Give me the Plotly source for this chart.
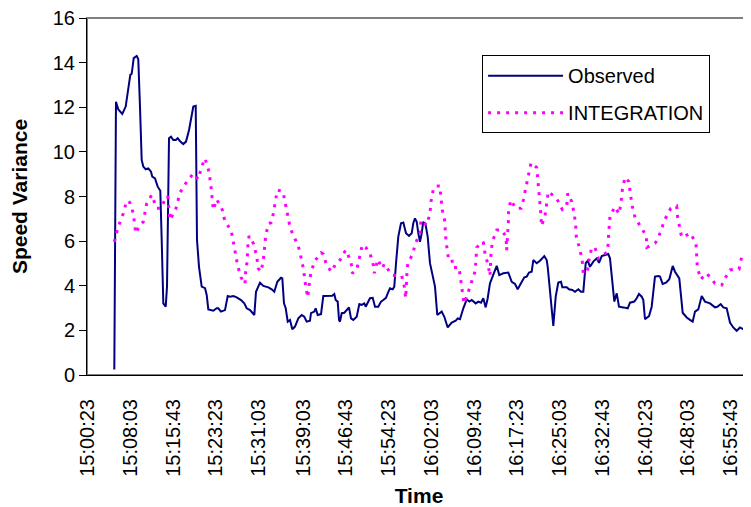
import plotly.graph_objects as go
import pandas as pd

# ---- data (time in minutes after 15:00:00, value) ----
observed = [
    (5.19, 0.25), (5.49, 12.25), (5.91, 11.9), (6.62, 11.7), (7.23, 12.03), (7.70, 12.77), (8.06, 13.45), (8.31, 13.5),
    (8.67, 14.2), (9.21, 14.3), (9.49, 14.15), (9.80, 12.0), (10.10, 9.64), (10.39, 9.34), (10.82, 9.22), (11.29, 9.26),
    (11.77, 9.11), (12.00, 8.89), (12.49, 8.81), (12.97, 8.44), (13.44, 8.26), (13.69, 6.05), (13.98, 3.21), (14.41, 3.06),
    (14.64, 3.96), (15.00, 10.61), (15.36, 10.68), (15.77, 10.53), (16.20, 10.53), (16.56, 10.61), (17.03, 10.46),
    (17.56, 10.35), (18.05, 10.46), (18.59, 10.98), (19.07, 11.58), (19.36, 12.03), (19.79, 12.06), (20.02, 6.05),
    (20.38, 4.85), (20.86, 3.96), (21.46, 3.89), (21.76, 3.59), (22.05, 2.94), (22.94, 2.88), (23.55, 2.99), (23.84, 2.99),
    (24.32, 2.84), (25.04, 2.91), (25.53, 3.54), (25.94, 3.51), (26.53, 3.54), (27.14, 3.48), (27.91, 3.36), (28.50, 3.21),
    (28.93, 2.99), (29.53, 2.91), (30.30, 2.69), (30.60, 3.73), (31.32, 4.14), (31.91, 3.99), (32.81, 3.93), (33.42, 3.84),
    (33.88, 3.73), (34.42, 4.18), (35.08, 4.36), (35.32, 4.33), (35.62, 3.21), (35.93, 2.99), (36.29, 2.39), (36.70, 2.47),
    (37.11, 2.05), (37.59, 2.17), (38.19, 2.54), (38.80, 2.69), (39.26, 2.61), (39.69, 2.39), (40.28, 2.43), (40.46, 2.77),
    (41.06, 2.84), (41.30, 2.99), (41.67, 2.69), (42.26, 2.73), (42.67, 3.54), (44.28, 3.55), (44.64, 3.63), (44.89, 3.36),
    (45.25, 3.29), (45.49, 2.47), (45.66, 2.39), (45.97, 2.77), (46.44, 2.79), (46.92, 2.91), (47.28, 3.03), (47.64, 2.54),
    (48.05, 2.47), (48.66, 2.61), (49.13, 3.18), (49.56, 3.14), (50.02, 3.21), (50.27, 3.06), (50.63, 3.21), (51.04, 3.44),
    (51.53, 3.46), (51.94, 3.06), (52.53, 3.06), (53.02, 3.29), (53.43, 3.36), (53.91, 3.46), (54.22, 3.66), (54.63, 3.89),
    (55.12, 3.84), (55.40, 3.96), (55.71, 5.01), (56.12, 6.20), (56.60, 6.80), (57.02, 6.83), (57.50, 6.35), (58.04, 6.23),
    (58.52, 6.35), (58.81, 6.80), (59.11, 7.02), (59.42, 6.87), (59.71, 6.35), (60.01, 5.97), (60.31, 6.35), (60.60, 6.87),
    (61.03, 6.72), (61.39, 6.20), (61.80, 5.01), (62.22, 4.56), (62.70, 3.96), (63.11, 2.69), (63.90, 2.84), (64.37, 2.61),
    (64.98, 2.13), (65.70, 2.35), (66.41, 2.43), (66.77, 2.54), (67.18, 2.50), (67.78, 2.99), (68.39, 3.39), (68.85, 3.29),
    (69.28, 3.36), (70.00, 3.21), (70.47, 3.29), (70.95, 3.24), (71.36, 3.44), (71.79, 3.03), (72.15, 3.44), (72.56, 4.11),
    (73.16, 4.48), (73.77, 4.89), (74.23, 4.48), (74.95, 4.56), (75.85, 4.59), (76.46, 4.18), (77.05, 4.08), (77.53, 3.84),
    (78.12, 4.11), (78.72, 4.38), (79.15, 4.41), (79.56, 4.59), (80.04, 4.63), (80.33, 5.15), (80.94, 5.01), (81.53, 5.12),
    (82.30, 5.33), (82.73, 5.15), (82.91, 4.85), (83.32, 3.66), (83.92, 2.20), (84.35, 3.51), (84.81, 4.14), (85.30, 4.18),
    (85.53, 3.93), (86.32, 3.93), (86.73, 3.84), (87.32, 3.81), (87.81, 3.73), (88.40, 3.84), (88.88, 3.73), (89.30, 3.73),
    (89.73, 5.01), (90.09, 5.12), (90.50, 4.85), (91.09, 5.08), (91.70, 5.23), (92.11, 5.03), (92.60, 5.33), (93.19, 5.38),
    (93.78, 5.42), (94.08, 5.23), (94.39, 4.56), (94.86, 3.29), (95.29, 3.66), (95.70, 3.06), (96.47, 3.03), (97.26, 2.99),
    (97.67, 3.24), (98.44, 3.29), (98.87, 3.44), (99.28, 3.63), (99.77, 3.51), (100.06, 3.36), (100.36, 2.50), (101.08, 2.64),
    (101.56, 3.06), (102.15, 4.41), (102.75, 4.44), (103.05, 4.41), (103.53, 4.08), (104.13, 4.14), (104.72, 4.29),
    (105.33, 4.89), (105.74, 4.63), (106.51, 4.33), (107.12, 2.79), (107.84, 2.58), (108.43, 2.47), (108.91, 2.39),
    (109.33, 2.84), (109.92, 2.94), (110.53, 3.54), (111.12, 3.29), (112.02, 3.21), (112.91, 3.03), (113.33, 3.06),
    (113.94, 3.18), (114.40, 3.03), (115.01, 2.99), (115.60, 2.35), (116.19, 2.13), (116.80, 1.98), (117.40, 2.13),
    (117.99, 2.05), (118.47, 2.32), (118.88, 2.39), (119.32, 2.69),
]

integration = [
    (5.19, 5.97), (5.80, 6.57), (6.80, 7.24), (7.41, 7.81), (8.00, 7.72), (8.60, 7.24), (9.03, 6.35), (9.80, 6.72),
    (10.39, 6.87), (11.00, 7.69), (11.90, 8.07), (12.79, 7.47), (13.56, 7.47), (14.28, 7.87), (14.77, 8.02), (15.18, 6.95),
    (16.20, 7.42), (16.97, 8.17), (18.17, 8.66), (19.36, 9.03), (20.25, 8.77), (20.86, 9.34), (21.46, 9.71), (22.17, 9.11),
    (22.53, 8.44), (22.94, 7.40), (23.55, 7.87), (24.56, 7.40), (25.04, 6.87), (26.12, 6.50), (26.53, 5.97), (26.96, 5.42),
    (27.32, 4.89), (27.91, 4.38), (28.63, 4.08), (28.75, 4.63), (29.04, 5.15), (29.10, 5.68), (29.35, 6.23), (30.12, 5.90),
    (30.73, 5.33), (31.01, 4.78), (31.50, 4.63), (31.91, 5.15), (32.22, 5.75), (32.34, 6.23), (32.81, 6.77), (33.29, 6.83),
    (33.70, 7.22), (34.01, 7.77), (34.42, 8.29), (35.44, 8.22), (35.93, 7.66), (36.39, 7.13), (36.75, 6.57), (37.36, 6.23),
    (38.19, 5.78), (38.67, 5.27), (39.15, 4.71), (39.39, 4.18), (39.69, 3.63), (39.87, 3.48), (40.11, 3.99), (40.41, 4.53),
    (41.06, 5.08), (42.26, 5.48), (42.67, 5.42), (43.28, 4.89), (44.18, 4.63), (44.77, 4.93), (45.66, 5.15), (46.69, 5.60),
    (47.64, 5.08), (47.87, 4.56), (48.66, 4.71), (49.25, 5.30), (49.66, 5.83), (50.27, 5.72), (51.04, 5.45), (51.64, 4.93),
    (51.82, 4.56), (52.43, 5.18), (53.25, 4.78), (53.61, 4.98), (54.94, 4.48), (56.12, 4.45), (56.73, 4.45), (57.20, 3.96),
    (57.45, 3.44), (57.63, 4.41), (57.81, 5.01), (58.63, 5.38), (59.24, 5.93), (60.01, 6.35), (60.19, 6.95), (61.21, 6.72),
    (61.80, 7.24), (61.98, 7.77), (62.40, 8.32), (62.83, 8.47), (63.60, 8.47), (63.78, 7.91), (64.01, 7.40), (64.49, 6.87),
    (64.55, 6.35), (64.80, 5.78), (65.09, 5.26), (65.70, 5.26), (65.93, 4.81), (67.00, 4.83), (67.36, 4.26), (67.67, 3.73),
    (67.90, 3.21), (68.49, 3.59), (69.16, 4.08), (69.87, 4.63), (70.05, 5.15), (70.18, 5.72), (71.36, 5.97), (71.67, 5.45),
    (72.26, 4.89), (72.56, 4.44), (72.74, 5.45), (72.98, 5.97), (73.77, 6.50), (74.66, 6.50), (75.43, 6.20), (75.56, 5.60),
    (75.85, 6.80), (75.90, 7.32), (76.28, 7.84), (77.17, 7.47), (78.12, 7.47), (78.54, 7.84), (78.97, 8.37), (79.43, 8.93),
    (79.92, 9.51), (80.94, 9.30), (81.12, 8.71), (81.23, 8.22), (81.53, 7.66), (81.71, 7.13), (81.80, 6.68), (82.43, 7.13),
    (82.73, 7.69), (83.02, 8.22), (84.53, 7.91), (85.53, 7.42), (86.32, 7.57), (86.50, 8.14), (87.22, 7.77), (87.68, 7.22),
    (87.93, 6.68), (88.05, 6.17), (88.70, 5.63), (89.12, 5.08), (89.30, 4.56), (90.01, 4.63), (90.32, 5.15), (90.80, 5.71),
    (91.39, 5.71), (91.99, 5.23), (92.60, 5.33), (93.67, 5.53), (93.78, 6.08), (93.96, 6.62), (94.08, 7.13), (94.98, 7.54),
    (95.70, 7.22), (96.06, 7.72), (96.29, 8.29), (96.77, 8.86), (97.49, 8.66), (97.72, 8.14), (98.08, 7.57), (98.57, 7.06),
    (99.64, 6.62), (100.59, 6.23), (100.70, 5.72), (102.15, 5.90), (102.65, 6.08), (103.35, 6.53), (103.95, 6.98),
    (104.97, 7.47), (106.04, 7.57), (106.22, 7.06), (106.64, 6.53), (106.94, 6.17), (108.56, 6.35), (109.51, 5.87),
    (109.63, 5.33), (109.74, 4.83), (110.35, 4.29), (111.43, 4.56), (112.91, 4.11), (114.12, 4.03), (114.89, 4.41),
    (115.60, 4.71), (116.32, 4.74), (117.22, 4.74), (117.70, 5.30), (118.47, 5.48), (118.71, 5.57), (119.32, 5.65),
]

tick_labels = ["15:00:23", "15:08:03", "15:15:43", "15:23:23", "15:31:03", "15:39:03", "15:46:43", "15:54:23",
               "16:02:03", "16:09:43", "16:17:23", "16:25:03", "16:32:43", "16:40:23", "16:48:03", "16:55:43"]

x_range_minutes = [0.293, 119.37]

# ---- figure ----
base = pd.Timestamp("2000-01-01 15:00:00")


def to_time(m):
    return base + pd.Timedelta(minutes=m)


FONT = "Arial, Liberation Sans, sans-serif"

fig = go.Figure()
fig.add_trace(go.Scatter(
    x=[to_time(m) for m, _ in observed], y=[v for _, v in observed],
    mode="lines", name="Observed", legendgroup="obs",
    line=dict(color="#000080", width=2),
))
fig.add_trace(go.Scatter(
    x=[to_time(m) for m, _ in integration], y=[v for _, v in integration],
    mode="lines", name="INTEGRATION", legendgroup="int",
    line=dict(color="#FF00FF", width=3, dash="3px,6px"),
))

# the page body adds an 8px offset, so the figure is 8px smaller than the window
fig.update_layout(
    width=743, height=499,
    margin=dict(l=79, r=0, t=10, b=132),
    paper_bgcolor="white", plot_bgcolor="white",
    font=dict(family=FONT, color="black"),
    showlegend=True,
    legend=dict(
        x=0.595, y=0.896, xanchor="left", yanchor="top",
        bordercolor="black", borderwidth=1, bgcolor="white",
        font=dict(family=FONT, size=20, color="black"),
        itemwidth=75, tracegroupgap=8,
    ),
    shapes=[dict(type="rect", xref="paper", yref="paper", x0=0, x1=1, y0=0, y1=1,
                 line=dict(color="#808080", width=2), layer="below")],
)

fig.update_xaxes(
    type="date", automargin=False,
    range=[to_time(x_range_minutes[0]), to_time(x_range_minutes[1])],
    tickmode="array",
    tickvals=[pd.Timestamp("2000-01-01 " + s) for s in tick_labels],
    ticktext=tick_labels,
    tickangle=-90,
    tickfont=dict(family=FONT, size=20, color="black"),
    ticklabelstandoff=15, ticklabeloverflow="allow",
    showline=True, linecolor="black", linewidth=1,
    ticks="",
    showgrid=False, zeroline=False,
    title=dict(text="<b>Time</b>", font=dict(family=FONT, size=21, color="black"), standoff=12),
)
fig.update_yaxes(
    range=[0, 16], dtick=2, tick0=0, automargin=False,
    tickfont=dict(family=FONT, size=20, color="black"),
    ticklabeloverflow="allow",
    showline=True, linecolor="black", linewidth=1,
    ticks="outside", ticklen=7, tickcolor="black",
    showgrid=False, zeroline=False,
    title=dict(text="<b>Speed Variance</b>", font=dict(family=FONT, size=21, color="black"), standoff=20),
)

fig.write_html("out.html")
